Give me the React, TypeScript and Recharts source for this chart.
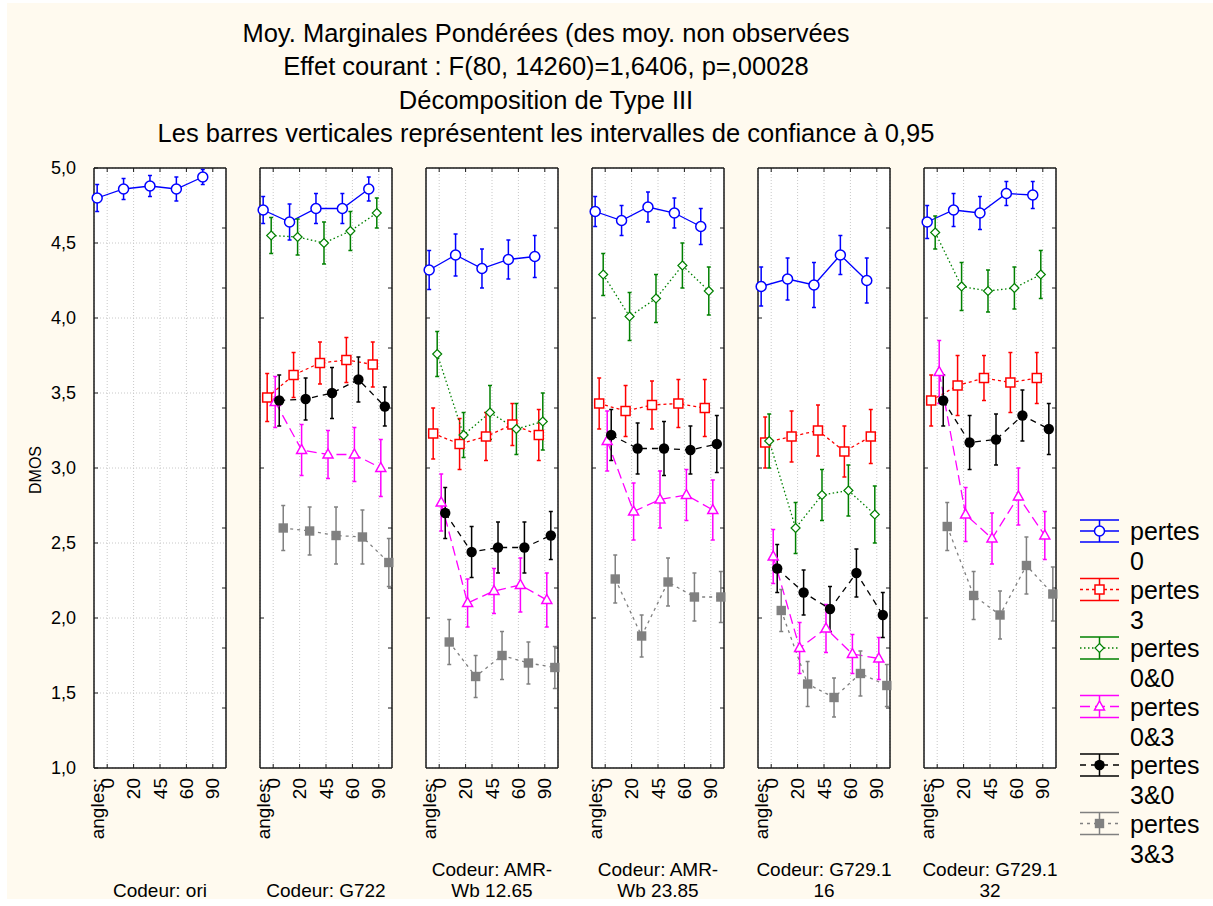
import React from 'react'
import { LineChart, Line, XAxis, YAxis, CartesianGrid, ErrorBar, ReferenceLine } from 'recharts'

// categories
const ANGLES = ['0', '20', '45', '60', '90']
const CODEURS = [
  ['Codeur: ori'],
  ['Codeur: G722'],
  ['Codeur: AMR-', 'Wb 12.65'],
  ['Codeur: AMR-', 'Wb 23.85'],
  ['Codeur: G729.1', '16'],
  ['Codeur: G729.1', '32'],
]
const TITLE = [
  'Moy. Marginales Pondérées (des moy. non observées',
  'Effet courant : F(80, 14260)=1,6406, p=,00028',
  'Décomposition de Type III',
  'Les barres verticales représentent les intervalles de confiance à 0,95',
]

// means per codeur (rows) and angle (columns); null = not observed
const PERTES_0 = [
  [4.80, 4.86, 4.88, 4.86, 4.94],
  [4.72, 4.64, 4.73, 4.73, 4.86],
  [4.32, 4.42, 4.33, 4.39, 4.41],
  [4.71, 4.65, 4.74, 4.70, 4.61],
  [4.21, 4.26, 4.22, 4.42, 4.25],
  [4.64, 4.72, 4.70, 4.83, 4.82],
]
const PERTES_0_CI = [
  [0.09, 0.07, 0.07, 0.08, 0.05],
  [0.09, 0.12, 0.10, 0.10, 0.08],
  [0.13, 0.14, 0.13, 0.13, 0.14],
  [0.10, 0.10, 0.10, 0.10, 0.12],
  [0.13, 0.14, 0.15, 0.13, 0.15],
  [0.11, 0.11, 0.11, 0.08, 0.09],
]
const PERTES_3 = [
  null,
  [3.47, 3.62, 3.70, 3.72, 3.69],
  [3.23, 3.16, 3.21, 3.29, 3.22],
  [3.43, 3.38, 3.42, 3.43, 3.40],
  [3.17, 3.21, 3.25, 3.11, 3.21],
  [3.45, 3.55, 3.60, 3.57, 3.60],
]
const PERTES_3_CI = [
  null,
  [0.16, 0.15, 0.14, 0.15, 0.15],
  [0.17, 0.17, 0.16, 0.14, 0.17],
  [0.17, 0.17, 0.16, 0.16, 0.19],
  [0.17, 0.17, 0.17, 0.17, 0.18],
  [0.17, 0.20, 0.15, 0.20, 0.17],
]
const PERTES_00 = [
  null,
  [4.55, 4.54, 4.50, 4.58, 4.70],
  [3.76, 3.22, 3.37, 3.26, 3.31],
  [4.29, 4.01, 4.13, 4.35, 4.18],
  [3.18, 2.60, 2.82, 2.85, 2.69],
  [4.57, 4.21, 4.18, 4.20, 4.29],
]
const PERTES_00_CI = [
  null,
  [0.12, 0.12, 0.14, 0.13, 0.10],
  [0.15, 0.15, 0.18, 0.17, 0.19],
  [0.14, 0.16, 0.16, 0.15, 0.16],
  [0.18, 0.17, 0.17, 0.17, 0.19],
  [0.11, 0.16, 0.14, 0.14, 0.16],
]
const PERTES_03 = [
  null,
  [3.44, 3.12, 3.09, 3.09, 3.00],
  [2.77, 2.10, 2.18, 2.22, 2.12],
  [3.18, 2.71, 2.79, 2.82, 2.72],
  [2.41, 1.80, 1.93, 1.76, 1.73],
  [3.64, 2.69, 2.53, 2.81, 2.55],
]
const PERTES_03_CI = [
  null,
  [0.17, 0.17, 0.16, 0.18, 0.19],
  [0.19, 0.16, 0.15, 0.18, 0.18],
  [0.20, 0.19, 0.19, 0.17, 0.20],
  [0.18, 0.17, 0.16, 0.13, 0.14],
  [0.21, 0.18, 0.17, 0.19, 0.16],
]
const PERTES_30 = [
  null,
  [3.45, 3.46, 3.50, 3.59, 3.41],
  [2.70, 2.44, 2.47, 2.47, 2.55],
  [3.22, 3.13, 3.13, 3.12, 3.16],
  [2.33, 2.17, 2.06, 2.30, 2.02],
  [3.45, 3.17, 3.19, 3.35, 3.26],
]
const PERTES_30_CI = [
  null,
  [0.17, 0.14, 0.17, 0.15, 0.13],
  [0.17, 0.17, 0.17, 0.17, 0.16],
  [0.17, 0.17, 0.18, 0.16, 0.19],
  [0.16, 0.15, 0.15, 0.16, 0.15],
  [0.17, 0.18, 0.17, 0.17, 0.17],
]
const PERTES_33 = [
  null,
  [2.60, 2.58, 2.55, 2.54, 2.37],
  [1.84, 1.61, 1.75, 1.70, 1.67],
  [2.26, 1.88, 2.24, 2.14, 2.14],
  [2.05, 1.56, 1.47, 1.63, 1.55],
  [2.61, 2.15, 2.02, 2.35, 2.16],
]
const PERTES_33_CI = [
  null,
  [0.15, 0.16, 0.19, 0.18, 0.16],
  [0.15, 0.14, 0.16, 0.14, 0.14],
  [0.16, 0.14, 0.16, 0.16, 0.17],
  [0.14, 0.15, 0.13, 0.15, 0.14],
  [0.16, 0.16, 0.16, 0.19, 0.18],
]

type Shape = 'circle' | 'square' | 'diamond' | 'triangle' | 'dot' | 'fsquare'

const SERIES: { label: string; values: any[]; ci: any[]; color: string; dash?: string; shape: Shape }[] = [
  { label: '0', values: PERTES_0, ci: PERTES_0_CI, color: '#0000ff', shape: 'circle' },
  { label: '3', values: PERTES_3, ci: PERTES_3_CI, color: '#ff0000', dash: '3 3', shape: 'square' },
  { label: '0&0', values: PERTES_00, ci: PERTES_00_CI, color: '#008000', dash: '1.5 2.5', shape: 'diamond' },
  { label: '0&3', values: PERTES_03, ci: PERTES_03_CI, color: '#ff00ff', dash: '10 5', shape: 'triangle' },
  { label: '3&0', values: PERTES_30, ci: PERTES_30_CI, color: '#000000', dash: '6 5', shape: 'dot' },
  { label: '3&3', values: PERTES_33, ci: PERTES_33_CI, color: '#808080', dash: '3 4', shape: 'fsquare' },
]

const FONT = '"Liberation Sans", Arial, sans-serif'
const FRAME = '#1a1a1a'

const PANEL_LEFT = 94
const PANEL_STEP = 166
const PLOT_W = 132
const PLOT_TOP = 168
const PLOT_H = 600
const Y_AXIS_W = 90

const X_MIN = 0
const X_MAX = 5
const Y_MIN = 1
const Y_MAX = 5
const Y_TICKS = [1, 1.5, 2, 2.5, 3, 3.5, 4, 4.5, 5]
const RIGHT_TICKS = [1.4, 1.8, 2.2, 2.6, 3, 3.4, 3.8, 4.2, 4.6]
const X_TICKS = ANGLES.map((_, i) => i + 0.5)
// inner tick length in axis units (≈4px)
const TICK_DX = (4 / PLOT_W) * (X_MAX - X_MIN)
const TICK_DY = (4 / PLOT_H) * (Y_MAX - Y_MIN)

function Marker({ shape, color, cx, cy }: { shape: Shape; color: string; cx: number; cy: number }) {
  if (cx == null || cy == null) return null
  switch (shape) {
    case 'circle':
      return <circle cx={cx} cy={cy} r={5} fill="#fff" stroke={color} strokeWidth={1.5} />
    case 'square':
      return <rect x={cx - 4.5} y={cy - 4.5} width={9} height={9} fill="#fff" stroke={color} strokeWidth={1.5} />
    case 'diamond':
      return (
        <polygon
          points={`${cx},${cy - 4.5} ${cx + 4.5},${cy} ${cx},${cy + 4.5} ${cx - 4.5},${cy}`}
          fill="#fff"
          stroke={color}
          strokeWidth={1.2}
        />
      )
    case 'triangle':
      return (
        <polygon
          points={`${cx},${cy - 5.5} ${cx + 5},${cy + 3.5} ${cx - 5},${cy + 3.5}`}
          fill="#fff"
          stroke={color}
          strokeWidth={1.5}
        />
      )
    case 'dot':
      return <circle cx={cx} cy={cy} r={5.2} fill={color} />
    case 'fsquare':
      return <rect x={cx - 4.7} y={cy - 4.7} width={9.4} height={9.4} fill={color} />
  }
  return null
}

const AngleTick = (props: any) => {
  const { x, y, payload, index } = props
  const label = ANGLES[Math.round(payload.value - 0.5)]
  return (
    <g>
      {index === 0 && (
        <text
          transform={`translate(${x - 10},${y}) rotate(-90)`}
          textAnchor="end"
          dominantBaseline="central"
          fontSize={19}
          fontFamily={FONT}
          fill="#000"
        >
          angles:
        </text>
      )}
      <text
        transform={`translate(${x},${y}) rotate(-90)`}
        textAnchor="end"
        dominantBaseline="central"
        fontSize={19}
        fontFamily={FONT}
        fill="#000"
      >
        {label}
      </text>
    </g>
  )
}

function Panel({ p }: { p: number }) {
  const left = PANEL_LEFT + p * PANEL_STEP - Y_AXIS_W
  const series = SERIES.map((s, k) => ({ ...s, k })).filter((s) => s.values[p])
  const leftTicks = p === 0 ? Y_TICKS : [2, 3, 4]
  return (
    <div style={{ position: 'absolute', left, top: PLOT_TOP - 10 }}>
      <LineChart width={Y_AXIS_W + PLOT_W + 6} height={10 + PLOT_H + 80} margin={{ top: 10, right: 6, left: 0, bottom: 0 }}>
        <CartesianGrid stroke="#c8c8c8" strokeDasharray="1 2" fill="#fff" />
        <XAxis
          type="number"
          dataKey="x"
          domain={[X_MIN, X_MAX]}
          ticks={X_TICKS}
          interval={0}
          height={80}
          tickLine={false}
          tickSize={0}
          tickMargin={10}
          axisLine={{ stroke: FRAME, strokeWidth: 1.5 }}
          tick={<AngleTick />}
        />
        <YAxis
          type="number"
          domain={[Y_MIN, Y_MAX]}
          ticks={Y_TICKS}
          interval={0}
          width={Y_AXIS_W}
          tickLine={false}
          tickSize={0}
          tickMargin={18}
          axisLine={{ stroke: FRAME, strokeWidth: 1.5 }}
          tick={p === 0 ? { fontSize: 18, fontFamily: FONT, fill: '#000' } : false}
          tickFormatter={(v: number) => v.toFixed(1).replace('.', ',')}
        />
        {/* frame: top and right edges plus small inner ticks */}
        <ReferenceLine y={Y_MAX} stroke={FRAME} strokeWidth={1.5} />
        <ReferenceLine x={X_MAX} stroke={FRAME} strokeWidth={1.5} />
        {X_TICKS.map((c) => (
          <ReferenceLine key={`t${c}`} segment={[{ x: c, y: Y_MAX }, { x: c, y: Y_MAX - TICK_DY }]} stroke={FRAME} />
        ))}
        {X_TICKS.map((c) => (
          <ReferenceLine key={`b${c}`} segment={[{ x: c, y: Y_MIN }, { x: c, y: Y_MIN + TICK_DY }]} stroke={FRAME} />
        ))}
        {RIGHT_TICKS.map((v) => (
          <ReferenceLine key={`r${v}`} segment={[{ x: X_MAX - TICK_DX, y: v }, { x: X_MAX, y: v }]} stroke={FRAME} />
        ))}
        {leftTicks.map((v) => (
          <ReferenceLine key={`l${v}`} segment={[{ x: X_MIN, y: v }, { x: X_MIN + TICK_DX, y: v }]} stroke={FRAME} />
        ))}
        {series.map((s) => {
          // dodge each series inside the angle band
          const off = (s.k - 2.5) * 0.152
          const data = ANGLES.map((a, i) => ({
            angle: a,
            x: i + 0.5 + off,
            y: s.values[p][i],
            e: s.ci[p][i],
          }))
          return (
            <Line
              key={s.label}
              data={data}
              dataKey="y"
              type="linear"
              stroke={s.color}
              strokeWidth={1.3}
              strokeDasharray={s.dash}
              isAnimationActive={false}
              activeDot={false}
              dot={(dp: any) => <Marker key={`${s.label}-${dp.index}`} shape={s.shape} color={s.color} cx={dp.cx} cy={dp.cy} />}
            >
              <ErrorBar dataKey="e" direction="y" width={2} stroke={s.color} strokeWidth={1.5} />
            </Line>
          )
        })}
      </LineChart>
      <div
        style={{
          position: 'absolute',
          left: Y_AXIS_W + PLOT_W / 2 - 83,
          width: 166,
          top: 890 - (PLOT_TOP - 10) - 10.5 - (CODEURS[p].length - 1) * 21,
          textAlign: 'center',
          fontFamily: FONT,
          fontSize: 19,
          lineHeight: '21px',
          color: '#000',
        }}
      >
        {CODEURS[p].map((l) => (
          <div key={l}>{l}</div>
        ))}
      </div>
    </div>
  )
}

function LegendBox() {
  const rowY = (k: number) => 31 + k * 58.5
  return (
    <svg width={140} height={380} style={{ position: 'absolute', left: 1070, top: 500 }}>
      {SERIES.map((s, k) => {
        const cy = rowY(k)
        return (
          <g key={s.label}>
            <line x1={10} x2={49} y1={cy - 11} y2={cy - 11} stroke={s.color} strokeWidth={1.5} />
            <line x1={10} x2={49} y1={cy + 11} y2={cy + 11} stroke={s.color} strokeWidth={1.5} />
            <line x1={29.5} x2={29.5} y1={cy - 11} y2={cy + 11} stroke={s.color} strokeWidth={1.5} />
            <line x1={10} x2={49} y1={cy} y2={cy} stroke={s.color} strokeWidth={1.3} strokeDasharray={s.dash} />
            <Marker shape={s.shape} color={s.color} cx={29.5} cy={cy} />
            <text x={60} y={cy} dominantBaseline="central" fontSize={25} fontFamily={FONT} fill="#000">
              pertes
            </text>
            <text x={60} y={cy + 30} dominantBaseline="central" fontSize={25} fontFamily={FONT} fill="#000">
              {s.label}
            </text>
          </g>
        )
      })}
    </svg>
  )
}

export default function App() {
  return (
    <div style={{ position: 'absolute', left: 0, top: 0, width: 1213, height: 906, background: '#fff', overflow: 'hidden' }}>
      <div style={{ position: 'absolute', left: 7, top: 3, width: 1206, height: 896, background: '#fffaef' }} />
      <svg width={1213} height={150} style={{ position: 'absolute', left: 0, top: 0 }}>
        {TITLE.map((t, i) => (
          <text key={i} x={546} y={33 + i * 33.3} textAnchor="middle" dominantBaseline="central" fontSize={25.5} fontFamily={FONT} fill="#000">
            {t}
          </text>
        ))}
      </svg>
      <svg width={60} height={120} style={{ position: 'absolute', left: 5, top: 410 }}>
        <text transform="translate(30,60) rotate(-90)" textAnchor="middle" dominantBaseline="central" fontSize={16} fontFamily={FONT} fill="#000">
          DMOS
        </text>
      </svg>
      {CODEURS.map((_, p) => (
        <Panel key={p} p={p} />
      ))}
      <LegendBox />
    </div>
  )
}
